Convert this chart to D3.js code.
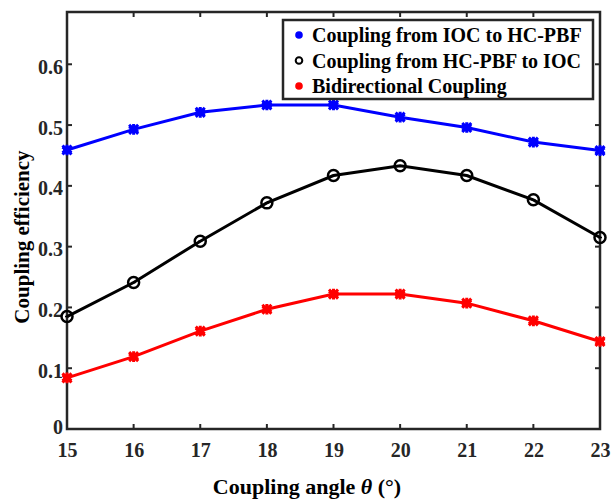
<!DOCTYPE html>
<html>
<head>
<meta charset="utf-8">
<script src="https://cdn.jsdelivr.net/npm/d3@7"></script>
<style>
  body { margin: 0; background: #fff; }
  svg text { font-family: "Liberation Serif", "Times New Roman", serif; font-weight: bold; fill: #262626; }
</style>
</head>
<body>
<div id="chart"></div>
<script>
// data
var angles = [15, 16, 17, 18, 19, 20, 21, 22, 23];
var iocToHc = [0.459, 0.493, 0.521, 0.533, 0.533, 0.513, 0.496, 0.472, 0.458];
var hcToIoc = [0.185, 0.241, 0.309, 0.372, 0.417, 0.433, 0.417, 0.377, 0.315];
var bidirectional = [0.084, 0.119, 0.161, 0.197, 0.222, 0.222, 0.207, 0.178, 0.144];
var yTicks = [0, 0.1, 0.2, 0.3, 0.4, 0.5, 0.6];
var seriesNames = ["Coupling from IOC to HC-PBF", "Coupling from HC-PBF to IOC", "Bidirectional Coupling"];

var svgWidth = 615, svgHeight = 499;
var margin = {top: 12, right: 15, bottom: 70, left: 67};
var width = 600 - margin.left;
var height = 429 - margin.top;

var svg = d3.select("#chart").append("svg")
  .attr("width", svgWidth)
  .attr("height", svgHeight);

var chartGroup = svg.append("g")
  .attr("transform", `translate(${margin.left}, ${margin.top})`);

var xScale = d3.scaleLinear().domain([15, 23]).range([0, width]);
var yScale = d3.scaleLinear().domain([0, 0.686]).range([height, 0]);

var axisColor = "#262626";

// tick labels first so markers sit on top
var bottomAxis = d3.axisBottom(xScale).tickValues(angles).tickSize(0).tickPadding(14).tickFormat(d3.format("d"));
var xAxis = chartGroup.append("g")
  .attr("transform", `translate(0, ${height})`)
  .call(bottomAxis);
xAxis.select(".domain").remove();
xAxis.selectAll("text").style("font-size", "20px").attr("dy", "0.71em");

var leftAxis = d3.axisLeft(yScale).tickValues(yTicks).tickSize(0).tickPadding(4)
  .tickFormat(function(d) { return d === 0 ? "0" : d3.format(".1f")(d); });
var yAxis = chartGroup.append("g").call(leftAxis);
yAxis.select(".domain").remove();
yAxis.selectAll("text").style("font-size", "20px")
  .attr("dy", function(d) { return d === 0 ? "0.2em" : "0.45em"; });

// inward ticks on all four sides
var tickLen = 5;
angles.forEach(function(a) {
  chartGroup.append("line")
    .attr("x1", xScale(a)).attr("x2", xScale(a))
    .attr("y1", height).attr("y2", height - tickLen)
    .attr("stroke", axisColor).attr("stroke-width", 2);
  chartGroup.append("line")
    .attr("x1", xScale(a)).attr("x2", xScale(a))
    .attr("y1", 0).attr("y2", tickLen)
    .attr("stroke", axisColor).attr("stroke-width", 2);
});
yTicks.forEach(function(t) {
  chartGroup.append("line")
    .attr("x1", 0).attr("x2", tickLen)
    .attr("y1", yScale(t)).attr("y2", yScale(t))
    .attr("stroke", axisColor).attr("stroke-width", 2);
  chartGroup.append("line")
    .attr("x1", width).attr("x2", width - tickLen)
    .attr("y1", yScale(t)).attr("y2", yScale(t))
    .attr("stroke", axisColor).attr("stroke-width", 2);
});

chartGroup.append("rect")
  .attr("x", 0).attr("y", 0)
  .attr("width", width).attr("height", height)
  .attr("fill", "none")
  .attr("stroke", axisColor)
  .attr("stroke-width", 2.5);

var line = d3.line()
  .x(function(d, i) { return xScale(angles[i]); })
  .y(function(d) { return yScale(d); });

var series = [
  {values: iocToHc, color: "#0000ff", marker: "star"},
  {values: hcToIoc, color: "#000000", marker: "circle"},
  {values: bidirectional, color: "#ff0000", marker: "star"}
];

var star = d3.symbol().type(d3.symbolAsterisk).size(80);
var cross = d3.symbol().type(d3.symbolTimes).size(55);

series.forEach(function(s) {
  chartGroup.append("path")
    .datum(s.values)
    .attr("d", line)
    .attr("fill", "none")
    .attr("stroke", s.color)
    .attr("stroke-width", 3);

  var pts = chartGroup.append("g").selectAll("g")
    .data(s.values)
    .enter()
    .append("g")
    .attr("transform", function(d, i) { return `translate(${xScale(angles[i])}, ${yScale(d)})`; });

  if (s.marker === "circle") {
    pts.append("circle")
      .attr("r", 5.5)
      .attr("fill", "none")
      .attr("stroke", s.color)
      .attr("stroke-width", 2.5);
    pts.append("line")
      .attr("x1", -2).attr("x2", 2)
      .attr("stroke", s.color).attr("stroke-width", 1.5);
  } else {
    pts.append("circle").attr("r", 4).attr("fill", s.color);
    pts.append("path").attr("d", star).attr("stroke", s.color).attr("stroke-width", 3).attr("fill", s.color);
    pts.append("path").attr("d", cross).attr("stroke", s.color).attr("stroke-width", 3).attr("fill", s.color);
  }
});

// legend
var legend = svg.append("g").attr("transform", "translate(283, 20)");
legend.append("rect")
  .attr("width", 310).attr("height", 79)
  .attr("fill", "#fff")
  .attr("stroke", axisColor)
  .attr("stroke-width", 2.5);

seriesNames.forEach(function(name, i) {
  var row = legend.append("g").attr("transform", `translate(0, ${15 + i * 25.5})`);
  var c = series[i].color;
  row.append("circle")
    .attr("cx", 16).attr("cy", 0)
    .attr("r", series[i].marker === "circle" ? 3.3 : 3.8)
    .attr("fill", series[i].marker === "circle" ? "#fff" : c)
    .attr("stroke", c)
    .attr("stroke-width", series[i].marker === "circle" ? 2 : 0);
  row.append("text")
    .attr("x", 29).attr("y", 0)
    .attr("dy", "0.35em")
    .style("font-size", "20px")
    .style("fill", "#000")
    .text(name);
});

// axis titles
svg.append("text")
  .attr("transform", "rotate(-90)")
  .attr("x", -237)
  .attr("y", 29)
  .attr("text-anchor", "middle")
  .style("font-size", "21px")
  .style("fill", "#000")
  .text("Coupling efficiency");

var xTitle = svg.append("text")
  .attr("x", 307)
  .attr("y", 494)
  .attr("text-anchor", "middle")
  .style("font-size", "22px")
  .style("fill", "#000");
xTitle.append("tspan").text("Coupling angle ");
xTitle.append("tspan").style("font-style", "italic").text("\u03B8");
xTitle.append("tspan").text(" (\u00B0)");
</script>
</body>
</html>
